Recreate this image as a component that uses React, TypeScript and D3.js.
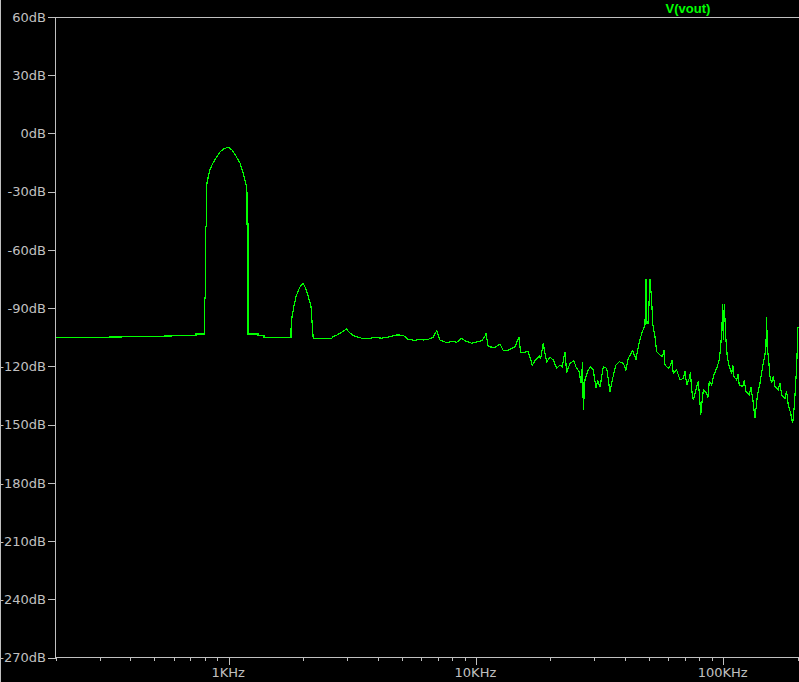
import React from "react";
import * as d3 from "d3";

const traceName = "V(vout)";
const yTicks = [60, 30, 0, -30, -60, -90, -120, -150, -180, -210, -240, -270];
const xMajorTicks = [1000, 10000, 100000];
const xMajorLabels = ["1KHz", "10KHz", "100KHz"];

const freqHz = [200, 301, 480, 635, 737, 737, 796, 796, 806, 806, 811, 811, 824, 839, 863, 888, 921, 956, 1000, 1030, 1069, 1110, 1141, 1163, 1177, 1185, 1185, 1196, 1196, 1312, 1312, 1388, 1388, 1785, 1785, 1802, 1836, 1870, 1914, 1950, 2000, 2034, 2072, 2111, 2151, 2165, 2185, 2197, 2609, 2641, 2766, 2871, 2990, 3093, 3189, 3450, 3727, 3904, 4155, 4489, 4778, 5082, 5324, 5667, 5845, 6123, 6414, 6721, 6936, 7040, 7153, 7610, 8095, 8356, 8758, 9031, 9610, 10550, 10880, 10980, 11220, 11940, 12510, 12900, 13510, 14380, 14930, 15170, 16280, 16900, 17330, 18040, 18280, 18720, 19020, 19330, 19930, 20550, 21210, 21880, 22350, 22920, 23290, 24010, 24920, 25390, 26190, 26600, 27030, 27180, 27610, 28480, 29120, 29840, 30600, 31090, 31760, 32750, 33810, 34860, 35750, 36860, 38020, 39460, 40460, 41340, 43070, 44420, 45380, 46840, 48300, 48750, 49200, 49800, 50600, 51410, 51890, 53010, 53860, 55540, 56950, 58190, 60000, 61360, 62870, 64890, 66920, 69010, 71240, 72980, 74630, 75760, 78190, 80640, 81160, 83150, 85840, 87900, 89890, 91830, 94170, 96500, 97750, 98950, 99590, 100160, 101090, 102710, 103950, 105900, 108300, 110660, 113470, 116250, 120000, 123760, 127620, 131730, 134580, 137490, 140980, 144540, 147270, 149080, 150000, 150910, 152870, 154740, 157220, 162120, 167190, 172560, 177970, 183510, 187660, 191190, 194080, 196640, 198460, 200890];

const magDb = [-105.1, -105.0, -104.6, -104.2, -104.2, -103.3, -103.3, -84.8, -84.8, -48.0, -48.0, -27.4, -23.0, -18.8, -15.2, -12.6, -9.6, -7.8, -7.1, -8.5, -11.6, -15.2, -19.9, -24.0, -27.1, -30.7, -46.6, -46.6, -103.3, -103.3, -104.0, -104.0, -105.0, -105.0, -101.3, -94.4, -88.9, -84.3, -80.7, -78.6, -77.2, -79.1, -81.7, -85.3, -88.9, -94.1, -101.8, -105.5, -105.5, -104.7, -103.6, -102.3, -100.8, -102.8, -104.2, -105.5, -105.5, -105.0, -105.5, -104.7, -103.8, -104.0, -106.1, -106.6, -106.1, -106.4, -106.1, -105.0, -101.6, -103.8, -106.4, -107.8, -107.1, -107.6, -105.5, -106.8, -108.1, -106.8, -104.4, -103.0, -109.9, -110.2, -108.5, -111.9, -111.6, -109.9, -105.0, -113.0, -112.4, -119.3, -117.2, -114.7, -115.8, -108.1, -113.3, -117.6, -115.3, -116.7, -121.0, -119.3, -120.2, -112.4, -123.3, -118.4, -117.1, -120.2, -122.8, -128.7, -117.6, -142.5, -127.0, -121.9, -120.2, -121.9, -131.3, -127.0, -130.8, -120.2, -121.0, -133.1, -126.2, -119.3, -117.6, -118.4, -121.9, -115.8, -111.9, -116.4, -109.9, -103.0, -98.7, -75.0, -97.7, -97.8, -75.0, -85.8, -97.8, -104.7, -112.4, -114.1, -115.0, -119.3, -121.0, -119.3, -123.6, -121.9, -127.0, -126.2, -129.6, -126.2, -132.2, -137.3, -130.5, -139.0, -145.1, -132.2, -133.9, -127.9, -129.6, -124.4, -121.0, -116.7, -109.9, -99.6, -87.9, -106.4, -87.9, -106.4, -115.0, -120.2, -123.6, -125.3, -127.0, -129.6, -130.5, -133.1, -134.8, -136.5, -146.8, -135.6, -128.7, -120.2, -115.0, -109.9, -94.7, -109.9, -116.7, -125.3, -128.7, -130.5, -132.2, -134.8, -136.5, -139.9, -144.2, -149.3, -140.8, -128.7, -120.2, -99.6];

// extra noise detail read from the dense high-frequency region
const noiseFreqHz = [57600, 62100, 70100, 73800, 79400, 86800, 109500, 114800, 121800, 129600, 159600, 169800, 180700];
const noiseDb = [-111.5, -116.8, -122.5, -123.0, -127.5, -136.0, -119.5, -123.8, -127.2, -130.9, -124.9, -128.4, -132.6];

const W = 799;
const H = 682;
const GRAY = "#c0c0c0";
const GREEN = "#00ff00";
const FONT = "'DejaVu Sans', sans-serif";

export default function App() {
  const x = d3.scaleLog().domain([200, 200000]).range([56, 797.5]);
  const y = d3.scaleLinear().domain([-270, 60]).range([657.5, 17]);
  const left = 55.5;
  const top = 17.5;
  const bottom = 657.5;

  const pts: [number, number][] = [];
  const n = Math.min(freqHz.length, magDb.length);
  for (let i = 0; i < n; i++) pts.push([freqHz[i], magDb[i]]);
  const m = Math.min(noiseFreqHz.length, noiseDb.length);
  for (let i = 0; i < m; i++) pts.push([noiseFreqHz[i], noiseDb[i]]);
  pts.sort((a, b) => a[0] - b[0]);

  const line = d3
    .line<[number, number]>()
    .x((d) => x(d[0]))
    .y((d) => y(d[1]));

  const minorTicks: number[] = [];
  for (const dec of [100, 1000, 10000, 100000]) {
    for (let k = 2; k <= 9; k++) {
      const v = dec * k;
      if (v >= 200 && v <= 200000 && !xMajorTicks.includes(v)) minorTicks.push(v);
    }
  }

  return (
    <svg
      width={W}
      height={H}
      style={{ position: "absolute", left: 0, top: 0, background: "#000", display: "block" }}
    >
      <rect x={0} y={0} width={W} height={H} fill="#000" />
      <defs>
        <clipPath id="plotClip">
          <rect x={56} y={17} width={W - 56} height={bottom - 17} />
        </clipPath>
      </defs>
      <line x1={0.5} y1={0} x2={0.5} y2={H} stroke={GRAY} strokeWidth={1} shapeRendering="crispEdges" />
      <line x1={left} y1={top} x2={W} y2={top} stroke={GRAY} strokeWidth={1} shapeRendering="crispEdges" />
      <line x1={left} y1={bottom} x2={W} y2={bottom} stroke={GRAY} strokeWidth={1} shapeRendering="crispEdges" />
      <line x1={left} y1={top} x2={left} y2={bottom} stroke={GRAY} strokeWidth={1} shapeRendering="crispEdges" />
      {yTicks.map((t) => (
        <g key={"y" + t}>
          <line
            x1={48}
            x2={left}
            y1={Math.round(y(t)) + 0.5}
            y2={Math.round(y(t)) + 0.5}
            stroke={GRAY}
            strokeWidth={1}
            shapeRendering="crispEdges"
          />
          <text x={46} y={y(t) + 4.8} textAnchor="end" fill={GRAY} fontFamily={FONT} fontSize={13}>
            {t + "dB"}
          </text>
        </g>
      ))}
      {minorTicks.map((t) => (
        <line
          key={"m" + t}
          x1={Math.round(x(t)) + 0.5}
          x2={Math.round(x(t)) + 0.5}
          y1={bottom}
          y2={bottom + 3.5}
          stroke={GRAY}
          strokeWidth={1}
          shapeRendering="crispEdges"
        />
      ))}
      {xMajorTicks.map((t, i) => (
        <g key={"M" + t}>
          <line
            x1={Math.round(x(t)) + 0.5}
            x2={Math.round(x(t)) + 0.5}
            y1={bottom}
            y2={bottom + 7.5}
            stroke={GRAY}
            strokeWidth={1}
            shapeRendering="crispEdges"
          />
          <text x={x(t) - 0.5} y={677} textAnchor="middle" fill={GRAY} fontFamily={FONT} fontSize={13}>
            {xMajorLabels[i]}
          </text>
        </g>
      ))}
      <text
        x={688}
        y={12.5}
        textAnchor="middle"
        fill={GREEN}
        fontFamily="'Liberation Sans', Arial, sans-serif"
        fontWeight="bold"
        fontSize={13}
      >
        {traceName}
      </text>
      <g clipPath="url(#plotClip)">
        <path
          d={line(pts) || ""}
          fill="none"
          stroke={GREEN}
          strokeWidth={1.2}
          strokeLinejoin="miter"
          shapeRendering="crispEdges"
        />
      </g>
    </svg>
  );
}
